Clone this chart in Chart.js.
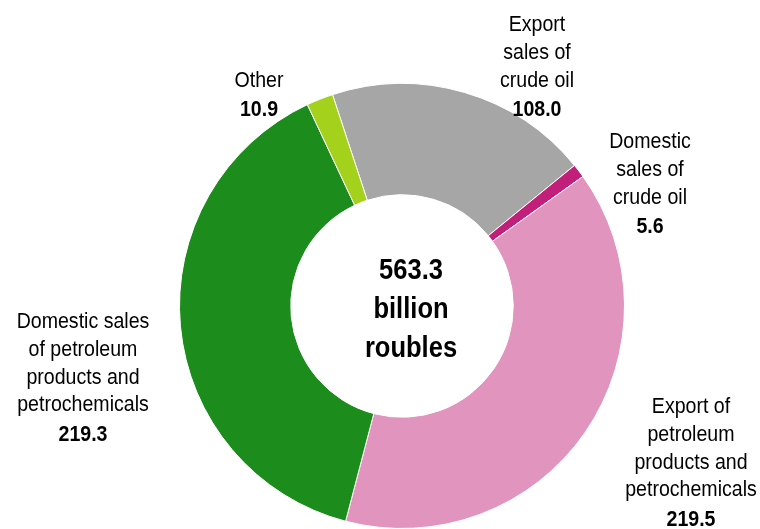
<!DOCTYPE html>
<html>
<head>
<meta charset="utf-8">
<script src="https://cdn.jsdelivr.net/npm/chart.js@4.4.1/dist/chart.umd.min.js"></script>
<style>
  html, body { margin: 0; padding: 0; background: #fff; }
  #wrap { width: 760px; height: 529px; position: relative; }
</style>
</head>
<body>
<div id="wrap"><canvas id="revenue-donut"></canvas></div>
<script>
// Revenue split, billion roubles
const categories = [
    ['Export', 'sales of', 'crude oil'],
    ['Domestic', 'sales of', 'crude oil'],
    ['Export of', 'petroleum', 'products and', 'petrochemicals'],
    ['Domestic sales', 'of petroleum', 'products and', 'petrochemicals'],
    ['Other']
];
const values = [108.0, 5.6, 219.5, 219.3, 10.9];
const totalLabel = ['563.3', 'billion', 'roubles'];
const sliceColors = ['#a6a6a6', '#c21f7b', '#e194bd', '#1c8c1c', '#a3d11c'];

// where each label block sits (centre x, first line y)
const labelSpots = [
    { x: 537, y: 25 },
    { x: 650, y: 142 },
    { x: 691, y: 407 },
    { x: 83, y: 322 },
    { x: 259, y: 81 }
];

function condensedText(ctx, text, x, y, font, squeeze) {
    ctx.save();
    ctx.font = font;
    ctx.translate(x, y);
    ctx.scale(squeeze, 1);
    ctx.fillText(text, 0, 0);
    ctx.restore();
}

const labelPlugin = {
    id: 'sliceLabels',
    afterDraw(chart) {
        const ctx = chart.ctx;
        const ds = chart.data.datasets[0];
        ctx.save();
        ctx.fillStyle = '#000';
        ctx.textAlign = 'center';
        ctx.textBaseline = 'middle';
        const lineH = 27.8;
        categories.forEach((lines, i) => {
            const spot = labelSpots[i];
            lines.forEach((ln, j) => {
                condensedText(ctx, ln, spot.x, spot.y + j * lineH,
                    '22px "Liberation Sans", Arial, sans-serif', 0.89);
            });
            condensedText(ctx, ds.data[i].toFixed(1), spot.x, spot.y + lines.length * lineH + 1.5,
                'bold 22px "Liberation Sans", Arial, sans-serif', 0.89);
        });

        const arc = chart.getDatasetMeta(0).data[0];
        const cx = arc.x + 9;
        const cy = arc.y;
        totalLabel.forEach((ln, j) => {
            condensedText(ctx, ln, cx, cy - 35 + j * 39,
                'bold 29px "Liberation Sans", Arial, sans-serif', 0.88);
        });
        ctx.restore();
    }
};

new Chart(document.getElementById('revenue-donut'), {
    type: 'doughnut',
    data: {
        labels: categories.map(c => c.join(' ')),
        datasets: [{
            data: values,
            backgroundColor: sliceColors,
            borderColor: '#ffffff',
            borderWidth: 1
        }]
    },
    options: {
        responsive: true,
        maintainAspectRatio: false,
        animation: false,
        rotation: -18.2,
        cutout: '50%',
        layout: {
            padding: { top: 83, bottom: 0, left: 179, right: 135 }
        },
        plugins: {
            legend: { display: false },
            tooltip: { enabled: false }
        }
    },
    plugins: [labelPlugin]
});
</script>
</body>
</html>
